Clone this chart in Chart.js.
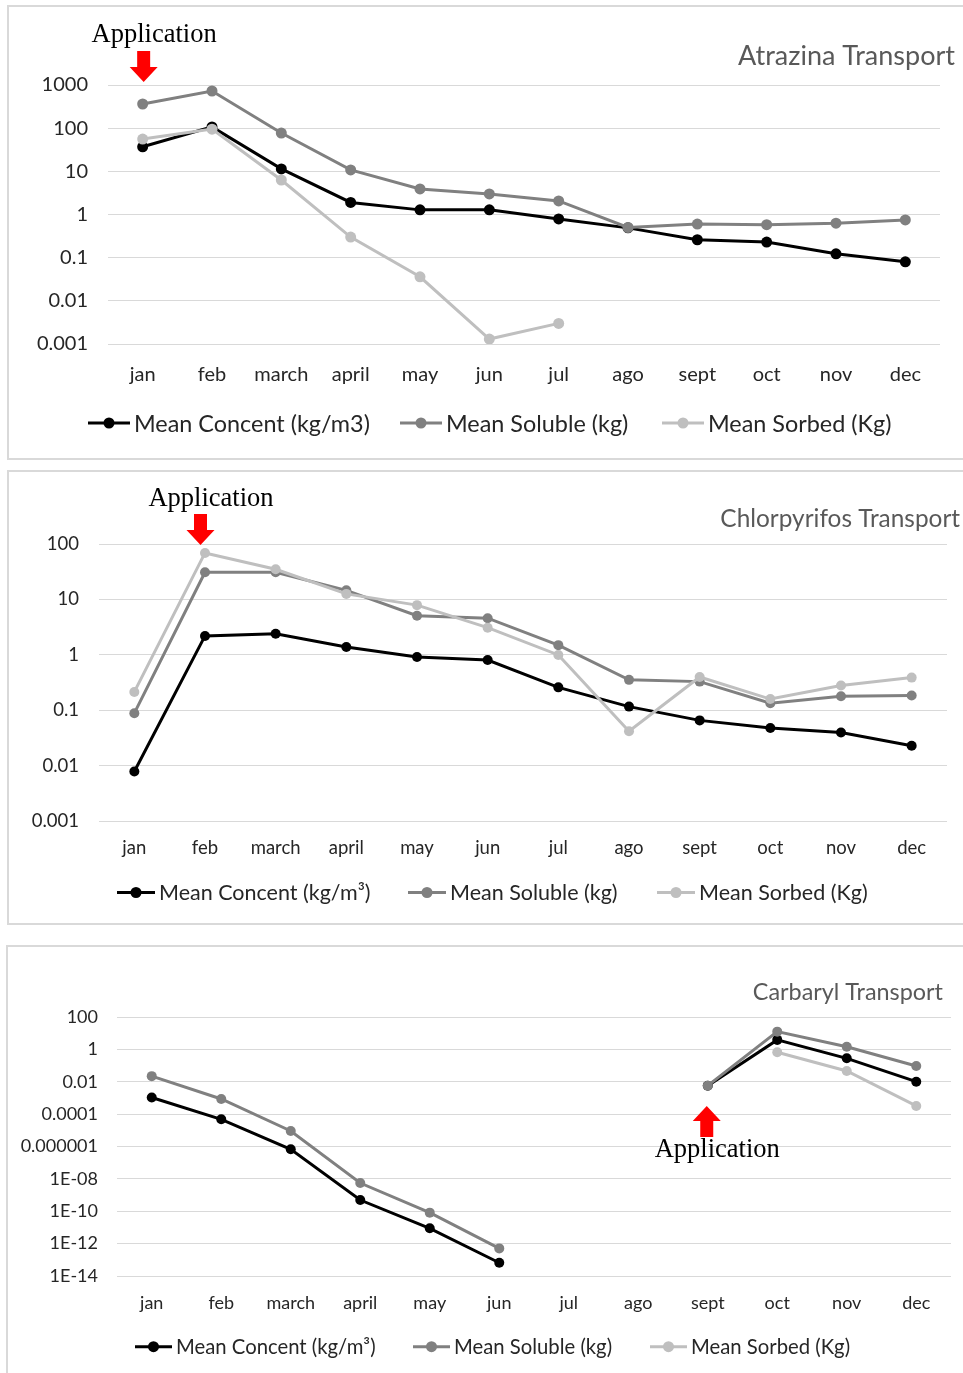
<!DOCTYPE html>
<html>
<head>
<meta charset="utf-8">
<script src="https://cdn.jsdelivr.net/npm/chart.js@4.4.1/dist/chart.umd.min.js"></script>
<style>
  html, body { margin: 0; padding: 0; background: #fff; overflow: hidden; }
  body { width: 963px; height: 1373px; position: relative; }
  .frame { position: absolute; border: 2px solid #d9d9d9; box-sizing: border-box; }
  .box { position: absolute; left: 0; }
</style>
</head>
<body>
<div class="frame" style="left:7px;top:5px;width:980px;height:455px"></div>
<div class="frame" style="left:7px;top:470px;width:980px;height:455px"></div>
<div class="frame" style="left:6px;top:945px;width:980px;height:460px"></div>

<div class="box" style="top:0px"><canvas id="atrazina" width="963" height="460"></canvas></div>
<div class="box" style="top:465px"><canvas id="chlor" width="963" height="460"></canvas></div>
<div class="box" style="top:940px"><canvas id="carbaryl" width="963" height="433"></canvas></div>

<script>
const months = ['jan', 'feb', 'march', 'april', 'may', 'jun', 'jul', 'ago', 'sept', 'oct', 'nov', 'dec'];
const seriesNames = ['Mean Concent (kg/m3)', 'Mean Soluble (kg)', 'Mean Sorbed (Kg)'];
const seriesNamesSup = ['Mean Concent (kg/m\u00b3)', 'Mean Soluble (kg)', 'Mean Sorbed (Kg)'];
const seriesColors = ['#000000', '#808080', '#bfbfbf'];

// Atrazina
const atrazinaConcent = [37, 107, 11.4, 1.9, 1.28, 1.28, 0.79, 0.49, 0.26, 0.23, 0.123, 0.08];
const atrazinaSoluble = [363, 726, 77, 10.8, 3.9, 3.0, 2.06, 0.5, 0.6, 0.58, 0.63, 0.75];
const atrazinaSorbed = [56, 95, 6.3, 0.30, 0.036, 0.0013, 0.003, null, null, null, null, null];
const atrazinaTicks = [0.001, 0.01, 0.1, 1, 10, 100, 1000];
const atrazinaTickLabels = ['0.001', '0.01', '0.1', '1', '10', '100', '1000'];

// Chlorpyrifos
const chlorConcent = [0.0079, 2.2, 2.4, 1.39, 0.92, 0.81, 0.26, 0.117, 0.066, 0.048, 0.04, 0.023];
const chlorSoluble = [0.089, 31, 31, 14.6, 5.1, 4.6, 1.5, 0.355, 0.33, 0.135, 0.18, 0.185];
const chlorSorbed = [0.215, 69, 35, 12.6, 7.9, 3.1, 1.0, 0.042, 0.40, 0.16, 0.28, 0.39];
const chlorTicks = [0.001, 0.01, 0.1, 1, 10, 100];
const chlorTickLabels = ['0.001', '0.01', '0.1', '1', '10', '100'];

// Carbaryl
const carbConcent = [1.1e-3, 4.9e-5, 6.9e-7, 5e-10, 8.9e-12, 6.6e-14, null, null, 5.9e-3, 4, 0.29, 0.0104];
const carbSoluble = [0.023, 8.9e-4, 9.3e-6, 5.6e-9, 8.3e-11, 5.1e-13, null, null, 5.9e-3, 13, 1.5, 0.098];
const carbSorbed = [null, null, null, null, null, null, null, null, null, 0.69, 0.048, 3.3e-4];
const carbTicks = [1e-14, 1e-12, 1e-10, 1e-8, 1e-6, 1e-4, 0.01, 1, 100];
const carbTickLabels = ['1E-14', '1E-12', '1E-10', '1E-08', '0.000001', '0.0001', '0.01', '1', '100'];

// titles, legend and the red "Application" arrow
const decoPlugin = {
    id: 'deco',
    afterDraw(chart, args, o) {
        const ctx = chart.ctx;
        ctx.save();
        ctx.font = o.titleSize + 'px Lato';
        ctx.fillStyle = '#595959';
        ctx.textAlign = 'right';
        ctx.textBaseline = 'middle';
        ctx.fillText(o.title, o.titleX, o.titleY);

        ctx.font = o.legendSize + 'px Lato';
        ctx.textAlign = 'left';
        chart.data.datasets.forEach((ds, i) => {
            const x = o.legendX[i], y = o.legendY;
            ctx.strokeStyle = ds.borderColor;
            ctx.lineWidth = 3;
            ctx.beginPath();
            ctx.moveTo(x, y);
            ctx.lineTo(x + o.legendLine, y);
            ctx.stroke();
            ctx.fillStyle = ds.borderColor;
            ctx.beginPath();
            ctx.arc(x + o.legendLine / 2, y, 5.5, 0, Math.PI * 2);
            ctx.fill();
            ctx.fillStyle = '#262626';
            ctx.fillText(ds.label, x + o.legendLine + 4, y + 1);
        });

        const ax = chart.scales.x.getPixelForValue(o.arrowIndex) + o.arrowShift;
        const d = o.arrowDir;
        const ys = o.arrowY, yh = ys + d * 16, tip = yh + d * 15;
        ctx.fillStyle = '#ff0000';
        ctx.beginPath();
        ctx.moveTo(ax - 6.5, ys);
        ctx.lineTo(ax + 6.5, ys);
        ctx.lineTo(ax + 6.5, yh);
        ctx.lineTo(ax + 14, yh);
        ctx.lineTo(ax, tip);
        ctx.lineTo(ax - 14, yh);
        ctx.lineTo(ax - 6.5, yh);
        ctx.closePath();
        ctx.fill();

        ctx.font = '26.5px "Liberation Serif", "Times New Roman", serif';
        ctx.fillStyle = '#000';
        ctx.textAlign = 'center';
        ctx.textBaseline = 'alphabetic';
        ctx.fillText('Application', ax + 10.5, o.textBase);
        ctx.restore();
    }
};

function makeChart(id, names, data, ticks, tickLabels, geo, deco) {
    const ctx = document.getElementById(id).getContext('2d');
    const canvasH = document.getElementById(id).height;
    return new Chart(ctx, {
        type: 'line',
        data: {
            labels: months,
            datasets: data.map((d, i) => ({
                label: names[i],
                data: d,
                borderColor: seriesColors[i],
                backgroundColor: seriesColors[i],
                pointBackgroundColor: seriesColors[i],
                pointBorderColor: seriesColors[i],
                borderWidth: 3,
                pointRadius: geo.pointRadius,
                pointBorderWidth: 0,
                spanGaps: false,
                tension: 0,
                order: 2 - i
            }))
        },
        options: {
            responsive: false,
            devicePixelRatio: 1,
            animation: false,
            layout: { padding: { top: geo.top, right: geo.right, bottom: 0, left: 0 } },
            plugins: {
                legend: { display: false },
                tooltip: { enabled: false },
                deco: deco
            },
            scales: {
                x: {
                    type: 'category',
                    offset: true,
                    grid: { display: false, drawTicks: false },
                    border: { display: false },
                    ticks: {
                        color: '#262626',
                        font: { family: 'Lato', size: geo.font },
                        padding: geo.xPad,
                        maxRotation: 0,
                        autoSkip: false
                    },
                    afterFit: s => { s.height = canvasH - geo.bottom; }
                },
                y: {
                    type: 'logarithmic',
                    min: ticks[0],
                    max: ticks[ticks.length - 1],
                    grid: { color: '#d9d9d9', lineWidth: 1, drawTicks: false },
                    border: { display: false },
                    ticks: {
                        color: '#262626',
                        font: { family: 'Lato', size: geo.font },
                        padding: geo.yPad,
                        callback: v => tickLabels[ticks.indexOf(v)]
                    },
                    afterBuildTicks: s => { s.ticks = ticks.map(v => ({ value: v })); },
                    afterFit: s => { s.width = geo.left; }
                }
            }
        },
        plugins: [decoPlugin]
    });
}

makeChart('atrazina', seriesNames,
    [atrazinaConcent, atrazinaSoluble, atrazinaSorbed], atrazinaTicks, atrazinaTickLabels,
    { left: 108, right: 23, top: 85, bottom: 344, font: 20, xPad: 19, yPad: 20, pointRadius: 5.5 },
    { title: 'Atrazina Transport', titleX: 955, titleY: 56, titleSize: 27,
      legendX: [88, 400, 662], legendY: 423, legendLine: 42, legendSize: 23.4,
      arrowIndex: 0, arrowShift: 1, arrowDir: 1, arrowY: 51, textBase: 42 });

makeChart('chlor', seriesNamesSup,
    [chlorConcent, chlorSoluble, chlorSorbed], chlorTicks, chlorTickLabels,
    { left: 99, right: 16, top: 79, bottom: 356.3, font: 18.5, xPad: 16, yPad: 20, pointRadius: 5 },
    { title: 'Chlorpyrifos Transport', titleX: 960, titleY: 54, titleSize: 24.4,
      legendX: [117, 408, 657], legendY: 427.5, legendLine: 38, legendSize: 21.5,
      arrowIndex: 1, arrowShift: -4.5, arrowDir: 1, arrowY: 49, textBase: 40.7 });

makeChart('carbaryl', seriesNamesSup,
    [carbConcent, carbSoluble, carbSorbed], carbTicks, carbTickLabels,
    { left: 117, right: 12, top: 77.3, bottom: 336, font: 18, xPad: 16, yPad: 19, pointRadius: 5 },
    { title: 'Carbaryl Transport', titleX: 943, titleY: 52, titleSize: 23.4,
      legendX: [135, 413, 650], legendY: 406.7, legendLine: 37, legendSize: 20.3,
      arrowIndex: 8, arrowShift: -1, arrowDir: -1, arrowY: 197, textBase: 217 });
</script>
</body>
</html>
